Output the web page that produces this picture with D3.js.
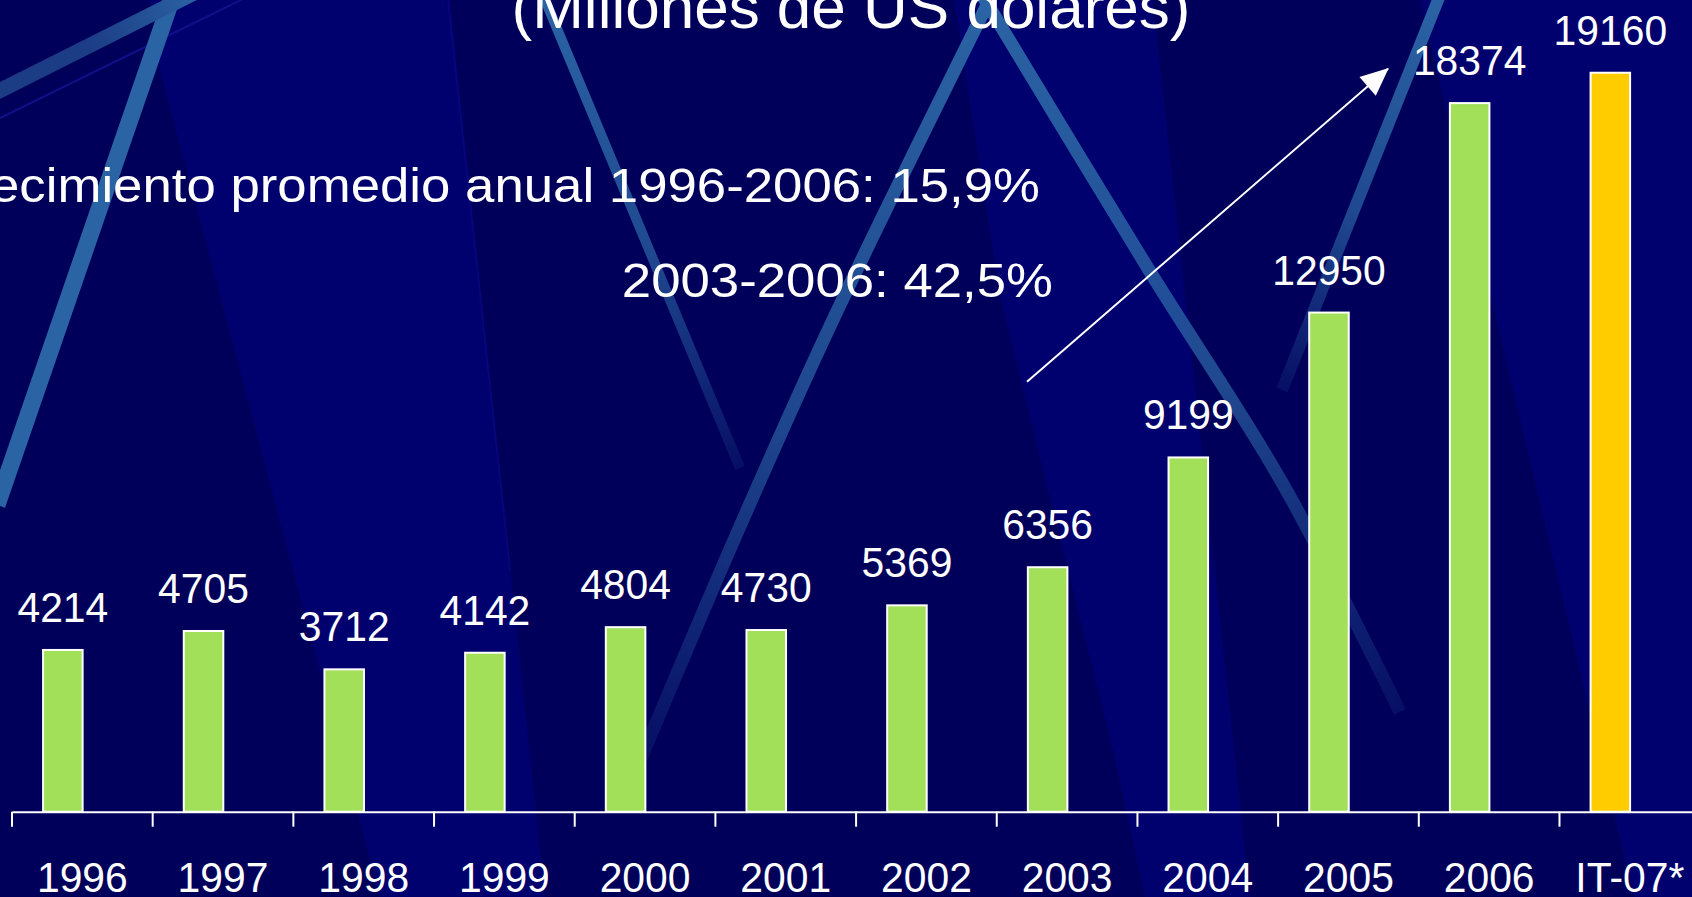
<!DOCTYPE html>
<html>
<head>
<meta charset="utf-8">
<script src="https://cdn.jsdelivr.net/npm/d3@7"></script>
<style>
  body { margin: 0; background: #00006c; overflow: hidden; }
  text { font-family: "Liberation Sans", Arial, sans-serif; fill: #fff; }
</style>
</head>
<body>
<div id="chart"></div>
<script>
// chart data
const categories = ["1996", "1997", "1998", "1999", "2000", "2001", "2002", "2003", "2004", "2005", "2006", "IT-07*"];
const values = [4214, 4705, 3712, 4142, 4804, 4730, 5369, 6356, 9199, 12950, 18374, 19160];
const estimated = ["IT-07*"];
const yDomain = [0, 20000];
const title = "(Millones de US dólares)";
const growthLines = ["Crecimiento promedio anual 1996-2006: 15,9%", "2003-2006: 42,5%"];

const width = 1692, height = 897;

const svg = d3.select("#chart")
    .append("svg")
    .attr("width", width)
    .attr("height", height);

const defs = svg.append("defs");

// ---- background: slanted navy bands and light blue strokes ----
const bg = svg.append("g");
bg.append("rect").attr("width", width).attr("height", height).attr("fill", "#00006e");

const bands = [
    [[0, 0], [150, 0], [160, 70], [380, 897], [0, 897]],
    [[450, 0], [954, 0], [1001, 300], [1113, 750], [1145, 897], [545, 897]],
    [[1153, 0], [1420, 0], [1634, 897], [1250, 897]]
];
bg.selectAll("polygon.band")
    .data(bands)
    .join("polygon")
    .attr("class", "band")
    .attr("points", d => d.map(p => p.join(",")).join(" "))
    .attr("fill", "#00005a");

// faint thin edges
bg.append("line").attr("x1", 0).attr("y1", 118).attr("x2", 245).attr("y2", -2)
    .attr("stroke", "#10108a").attr("stroke-width", 2);
bg.append("line").attr("x1", 448).attr("y1", 0).attr("x2", 510).attr("y2", 570)
    .attr("stroke", "#06067a").attr("stroke-width", 2);

const lineGen = d3.line().curve(d3.curveCatmullRom);
let gradId = 0;
function stroke(points, w, from, to, o1, o2) {
    const id = "g" + (gradId++);
    const a = points[0], b = points[points.length - 1];
    const grad = defs.append("linearGradient")
        .attr("id", id)
        .attr("gradientUnits", "userSpaceOnUse")
        .attr("x1", a[0]).attr("y1", a[1]).attr("x2", b[0]).attr("y2", b[1]);
    grad.append("stop").attr("offset", "0%").attr("stop-color", from).attr("stop-opacity", o1);
    grad.append("stop").attr("offset", "55%").attr("stop-color", to).attr("stop-opacity", (o1 + o2) / 2 + 0.15);
    grad.append("stop").attr("offset", "100%").attr("stop-color", to).attr("stop-opacity", o2);
    bg.append("path")
        .attr("d", lineGen(points))
        .attr("fill", "none")
        .attr("stroke", `url(#${id})`)
        .attr("stroke-width", w);
}

const lb = "#2b64a4";
stroke([[173, -5], [-3, 505]], 17, lb, lb, 1, 1);
stroke([[200, -10], [-5, 93]], 15, lb, "#1c3c86", 1, 1);
stroke([[543, -5], [740, 468]], 10, lb, lb, 1, 0.15);
stroke([[992, -5], [831, 324], [734, 540], [630, 785]], 13, lb, lb, 1, 0.1);
stroke([[982, -5], [1149, 270], [1284, 486], [1400, 712]], 13, lb, lb, 1, 0.15);
stroke([[1440, -5], [1282, 390]], 12, lb, lb, 1, 0.15);

// ---- chart ----
const x = d3.scaleBand()
    .domain(categories)
    .range([12, 12 + 140.68 * categories.length]);

const y = d3.scaleLinear()
    .domain(yDomain)
    .range([811.7, 39.3]);

const g = svg.append("g");
const bw = x.bandwidth();
const barX = d => x(d) + bw * 0.221;
const barW = bw * 0.281;
const labelSize = 43, labelSquash = 0.95;

const data = categories.map((c, i) => ({ cat: c, value: values[i] }));

g.selectAll("rect.bar")
    .data(data)
    .join("rect")
    .attr("class", "bar")
    .attr("x", d => barX(d.cat))
    .attr("width", barW)
    .attr("y", d => y(d.value) + 1)
    .attr("height", d => y(0) - y(d.value) - 1)
    .attr("fill", d => estimated.includes(d.cat) ? "#ffcc00" : "#a2e05a")
    .attr("stroke", "#fff")
    .attr("stroke-width", 2);

g.selectAll("text.value")
    .data(data)
    .join("text")
    .attr("class", "value")
    .attr("transform", d => `translate(${barX(d.cat) + barW / 2},${y(d.value) - 27}) scale(${labelSquash},1)`)
    .attr("text-anchor", "middle")
    .attr("font-size", labelSize)
    .text(d => d.value);

// axis: labels centred in bands, ticks on band edges
const axis = g.append("g")
    .attr("transform", `translate(0,${y(0)})`)
    .call(d3.axisBottom(x).tickSize(0).tickPadding(50).tickSizeOuter(0));
axis.select(".domain").attr("stroke", "#fff").attr("stroke-width", 2);
axis.selectAll(".tick text")
    .attr("font-size", labelSize)
    .attr("font-family", "'Liberation Sans', Arial, sans-serif")
    .attr("fill", "#fff")
    .attr("transform", `scale(${labelSquash},1)`);

axis.selectAll("line.edge")
    .data(categories)
    .join("line")
    .attr("class", "edge")
    .attr("x1", d => x(d)).attr("x2", d => x(d))
    .attr("y1", 0).attr("y2", 15)
    .attr("stroke", "#fff")
    .attr("stroke-width", 2);

// ---- texts ----
svg.append("text")
    .attr("x", 851)
    .attr("y", 28)
    .attr("text-anchor", "middle")
    .attr("font-size", 62)
    .text(title);

svg.append("text")
    .attr("transform", "translate(1040,201.5) scale(1.077,1)")
    .attr("text-anchor", "end")
    .attr("font-size", 49)
    .text(growthLines[0]);

svg.append("text")
    .attr("transform", "translate(1053,296.7) scale(1.077,1)")
    .attr("text-anchor", "end")
    .attr("font-size", 49)
    .text(growthLines[1]);

// ---- arrow annotation, placed in (band index, value) space ----
const xi = d3.scaleLinear().domain([0, categories.length]).range(x.range());
const arrowFrom = [7.215, 11134], arrowTo = [9.838, 19420];

defs.append("marker")
    .attr("id", "head")
    .attr("markerUnits", "userSpaceOnUse")
    .attr("viewBox", "-28 -14 30 28")
    .attr("markerWidth", 30)
    .attr("markerHeight", 28)
    .attr("refX", 0)
    .attr("refY", 0)
    .attr("orient", "auto")
    .append("path")
    .attr("d", "M1,0 L-27,-12.5 L-27,12.5 Z")
    .attr("fill", "#fff");

svg.append("line")
    .attr("x1", xi(arrowFrom[0])).attr("y1", y(arrowFrom[1]))
    .attr("x2", xi(arrowTo[0]) - 8).attr("y2", y(arrowTo[1]) + 7)
    .attr("stroke", "#fff")
    .attr("stroke-width", 2)
    .attr("marker-end", "url(#head)");
</script>
</body>
</html>
